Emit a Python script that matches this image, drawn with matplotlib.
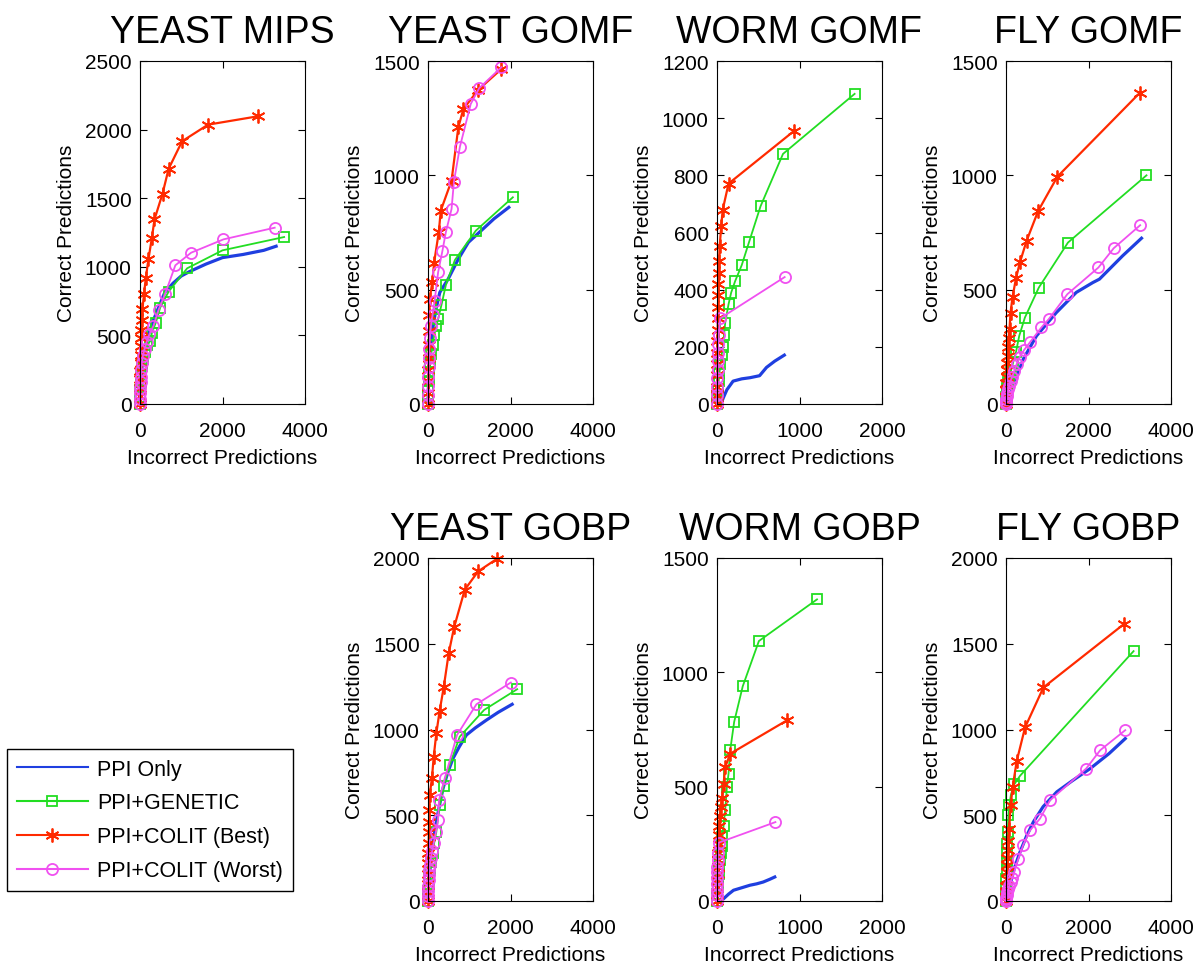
import numpy as np
import matplotlib
matplotlib.use("Agg")
import matplotlib.pyplot as plt

plt.rcParams['font.family'] = ['Liberation Sans', 'DejaVu Sans']

titles = ["YEAST MIPS", "YEAST GOMF", "WORM GOMF", "FLY GOMF",
          "YEAST GOBP", "WORM GOBP", "FLY GOBP"]
series_names = ["PPI Only", "PPI+GENETIC", "PPI+COLIT (Best)", "PPI+COLIT (Worst)"]

# per panel: x limit, y limit, x ticks, y ticks
xlims = [4000, 4000, 2000, 4000, 4000, 2000, 4000]
ylims = [2500, 1500, 1200, 1500, 2000, 1500, 2000]
xticks = [[0, 2000, 4000], [0, 2000, 4000], [0, 1000, 2000], [0, 2000, 4000],
          [0, 2000, 4000], [0, 1000, 2000], [0, 2000, 4000]]
yticks = [[0, 500, 1000, 1500, 2000, 2500], [0, 500, 1000, 1500],
          [0, 200, 400, 600, 800, 1000, 1200], [0, 500, 1000, 1500],
          [0, 500, 1000, 1500, 2000], [0, 500, 1000, 1500],
          [0, 500, 1000, 1500, 2000]]

# ---- YEAST MIPS
ym_blue_x = [0, 10, 30, 60, 100, 200, 300, 400, 600, 800, 1000, 1200, 1600, 2000, 2500, 3000, 3300]
ym_blue_y = [0, 120, 220, 300, 370, 500, 590, 667, 812, 880, 933, 965, 1020, 1067, 1090, 1120, 1150]
ym_green_x = [0, 5, 10, 20, 35, 55, 80, 120, 180, 250, 290, 384, 490, 694, 1143, 2000, 3494]
ym_green_y = [0, 50, 100, 160, 220, 280, 330, 380, 430, 460, 520, 594, 703, 819, 989, 1120, 1217]
ym_red_x = [0, 2, 4, 7, 10, 14, 18, 23, 29, 36, 45, 57, 98, 139, 204, 286, 351, 547, 694, 1020, 1649, 2857]
ym_red_y = [0, 60, 120, 180, 240, 300, 360, 420, 480, 540, 610, 691, 800, 916, 1054, 1207, 1345, 1534, 1714, 1915, 2036, 2097]
ym_mag_x = [0, 3, 6, 10, 15, 20, 30, 45, 70, 110, 160, 230, 327, 449, 612, 857, 1241, 2024, 3265]
ym_mag_y = [0, 40, 80, 120, 160, 200, 250, 300, 350, 400, 450, 510, 570, 686, 805, 1011, 1103, 1200, 1285]

# ---- YEAST GOMF
yf_blue_x = [0, 10, 30, 60, 100, 150, 200, 286, 490, 735, 979, 1300, 1600, 1959]
yf_blue_y = [0, 80, 160, 240, 310, 370, 420, 488, 547, 634, 707, 760, 810, 860]
yf_green_x = [0, 5, 10, 20, 35, 55, 80, 110, 150, 200, 245, 326, 433, 653, 1159, 2057]
yf_green_y = [0, 30, 60, 100, 140, 180, 220, 260, 300, 340, 372, 433, 520, 630, 758, 904]
yf_red_x = [0, 3, 6, 10, 15, 20, 27, 35, 41, 106, 147, 261, 310, 571, 735, 857, 1224, 1780]
yf_red_y = [0, 50, 100, 150, 200, 260, 320, 390, 459, 535, 617, 751, 846, 977, 1210, 1290, 1375, 1465]
yf_mag_x = [0, 3, 6, 10, 15, 22, 30, 45, 70, 110, 160, 245, 351, 432, 571, 629, 775, 1036, 1240, 1780]
yf_mag_y = [0, 40, 80, 120, 160, 200, 240, 290, 340, 390, 450, 576, 671, 751, 853, 973, 1126, 1312, 1381, 1473]

# ---- WORM GOMF
wf_blue_x = [60, 80, 120, 195, 300, 400, 516, 600, 700, 816]
wf_blue_y = [10, 24, 50, 80, 88, 92, 99, 128, 150, 171]
wf_green_x = [0, 5, 12, 20, 30, 42, 55, 70, 85, 100, 140, 172, 220, 300, 388, 528, 800, 1668]
wf_green_y = [0, 25, 50, 80, 110, 140, 170, 200, 240, 285, 349, 390, 430, 486, 566, 692, 875, 1085]
wf_red_x = [0, 1, 2, 3, 4, 5, 6, 8, 10, 12, 15, 18, 22, 26, 32, 52, 68, 140, 928]
wf_red_y = [0, 30, 60, 100, 140, 180, 220, 260, 300, 340, 380, 420, 460, 500, 552, 622, 678, 771, 954]
wf_mag_x = [0, 2, 4, 6, 8, 10, 12, 15, 20, 40, 820]
wf_mag_y = [0, 30, 60, 90, 120, 150, 180, 210, 240, 300, 444]

# ---- FLY GOMF
ff_blue_x = [0, 56, 177, 418, 739, 1221, 1703, 2104, 2265, 2827, 3285]
ff_blue_y = [0, 7, 80, 196, 298, 400, 488, 531, 546, 648, 725]
ff_green_x = [0, 5, 10, 20, 35, 55, 80, 120, 170, 241, 321, 458, 795, 1502, 3406]
ff_green_y = [0, 15, 30, 50, 70, 95, 120, 145, 180, 226, 298, 378, 509, 706, 1000]
ff_red_x = [0, 3, 6, 10, 15, 20, 28, 38, 50, 65, 85, 110, 161, 241, 337, 498, 779, 1245, 3245]
ff_red_y = [0, 30, 60, 90, 120, 150, 180, 210, 250, 290, 330, 400, 470, 549, 619, 713, 844, 994, 1361]
ff_mag_x = [0, 5, 10, 20, 35, 55, 80, 110, 150, 200, 260, 337, 442, 578, 859, 1036, 1486, 2241, 2610, 3253]
ff_mag_y = [0, 10, 20, 35, 50, 65, 80, 100, 120, 145, 175, 207, 237, 269, 335, 371, 480, 597, 681, 782]

# ---- YEAST GOBP
yb_blue_x = [0, 20, 50, 81, 130, 202, 280, 364, 480, 607, 760, 931, 1150, 1417, 1700, 2040]
yb_blue_y = [0, 100, 190, 267, 360, 462, 560, 656, 750, 832, 900, 968, 1010, 1055, 1100, 1147]
yb_green_x = [0, 5, 10, 20, 35, 55, 80, 110, 150, 200, 283, 381, 526, 769, 1360, 2162]
yb_green_y = [0, 30, 60, 100, 140, 180, 230, 280, 340, 400, 559, 672, 793, 958, 1114, 1235]
yb_red_x = [0, 2, 4, 6, 9, 12, 16, 21, 27, 33, 40, 97, 138, 202, 283, 381, 502, 632, 891, 1215, 1676]
yb_red_y = [0, 50, 100, 160, 220, 280, 340, 400, 460, 530, 617, 719, 841, 978, 1110, 1246, 1445, 1595, 1815, 1922, 1996]
yb_mag_x = [0, 3, 6, 10, 15, 20, 30, 45, 70, 100, 140, 190, 243, 267, 405, 704, 1174, 2008]
yb_mag_y = [0, 30, 60, 90, 120, 150, 180, 210, 250, 290, 340, 400, 471, 588, 715, 968, 1147, 1274]

# ---- WORM GOBP
wb_blue_x = [20, 40, 80, 140, 200, 300, 400, 480, 560, 640, 700]
wb_blue_y = [0, 3, 10, 30, 47, 58, 69, 75, 83, 95, 105]
wb_green_x = [0, 5, 10, 15, 20, 28, 36, 45, 55, 65, 80, 100, 120, 140, 160, 208, 312, 508, 1212]
wb_green_y = [0, 30, 60, 90, 120, 150, 180, 210, 240, 280, 330, 400, 499, 557, 659, 783, 939, 1137, 1319]
wb_red_x = [0, 2, 4, 6, 8, 10, 13, 16, 20, 25, 30, 40, 50, 60, 80, 100, 160, 848]
wb_red_y = [0, 30, 60, 90, 120, 150, 180, 210, 250, 290, 330, 370, 410, 450, 513, 586, 644, 790]
wb_mag_x = [0, 1, 2, 3, 4, 5, 6, 8, 10, 20, 708]
wb_mag_y = [0, 25, 50, 75, 100, 125, 150, 180, 210, 255, 345]

# ---- FLY GOBP
fb_blue_x = [0, 50, 97, 200, 340, 500, 664, 900, 1231, 1600, 2040, 2500, 2891]
fb_blue_y = [0, 40, 91, 190, 286, 380, 461, 550, 636, 700, 772, 860, 947]
fb_green_x = [0, 3, 6, 10, 15, 20, 27, 35, 45, 57, 80, 120, 200, 340, 3093]
fb_green_y = [0, 40, 80, 130, 180, 230, 280, 330, 400, 500, 560, 620, 680, 730, 1457]
fb_red_x = [0, 3, 6, 10, 15, 20, 27, 35, 45, 57, 75, 113, 162, 259, 462, 907, 2850]
fb_red_y = [0, 30, 60, 90, 130, 170, 210, 250, 300, 350, 420, 558, 665, 815, 1012, 1245, 1613]
fb_mag_x = [0, 5, 10, 20, 35, 55, 80, 110, 150, 200, 300, 421, 583, 826, 1069, 1943, 2283, 2891]
fb_mag_y = [0, 10, 20, 35, 50, 70, 90, 110, 135, 170, 247, 329, 412, 481, 588, 772, 879, 996]

panels = [
    [(ym_blue_x, ym_blue_y), (ym_green_x, ym_green_y), (ym_red_x, ym_red_y), (ym_mag_x, ym_mag_y)],
    [(yf_blue_x, yf_blue_y), (yf_green_x, yf_green_y), (yf_red_x, yf_red_y), (yf_mag_x, yf_mag_y)],
    [(wf_blue_x, wf_blue_y), (wf_green_x, wf_green_y), (wf_red_x, wf_red_y), (wf_mag_x, wf_mag_y)],
    [(ff_blue_x, ff_blue_y), (ff_green_x, ff_green_y), (ff_red_x, ff_red_y), (ff_mag_x, ff_mag_y)],
    [(yb_blue_x, yb_blue_y), (yb_green_x, yb_green_y), (yb_red_x, yb_red_y), (yb_mag_x, yb_mag_y)],
    [(wb_blue_x, wb_blue_y), (wb_green_x, wb_green_y), (wb_red_x, wb_red_y), (wb_mag_x, wb_mag_y)],
    [(fb_blue_x, fb_blue_y), (fb_green_x, fb_green_y), (fb_red_x, fb_red_y), (fb_mag_x, fb_mag_y)],
]

colors = ['#1f3fe0', '#22dd22', '#ff2a00', '#f050f0']
markers = [None, 's', (6, 2, 0), 'o']
msizes = [0, 7, 10, 8]
lws = [2.3, 1.3, 1.6, 1.3]

W, H = 1200, 979
fig = plt.figure(figsize=(W / 100, H / 100), dpi=100)

col_left = [140, 428, 717, 1006]
ax_w, ax_h = 165, 343
row_top = [62, 559]
slots = [(0, 0), (0, 1), (0, 2), (0, 3), (1, 1), (1, 2), (1, 3)]

handles = []
for i, (r, c) in enumerate(slots):
    left = col_left[c] / W
    bottom = 1 - (row_top[r] + ax_h) / H
    ax = fig.add_axes([left, bottom, ax_w / W, ax_h / H])
    for k, (xs, ys) in enumerate(panels[i]):
        ln, = ax.plot(xs, ys, color=colors[k], lw=lws[k], marker=markers[k],
                      ms=msizes[k], mfc='none', mec=colors[k], mew=1.3,
                      clip_on=False, label=series_names[k])
        if i == 0:
            handles.append(ln)
    ax.set_xlim(0, xlims[i])
    ax.set_ylim(0, ylims[i])
    ax.set_xticks(xticks[i])
    ax.set_yticks(yticks[i])
    ax.tick_params(direction='in', top=True, right=True, length=5, labelsize=15)
    ax.tick_params(axis='x', pad=12)
    ax.tick_params(axis='y', pad=6)
    ax.set_title(titles[i], fontsize=27, pad=14)
    ax.set_xlabel('Incorrect Predictions', fontsize=15, labelpad=6)
    ax.set_ylabel('Correct Predictions', fontsize=15, labelpad=6)

leg = fig.legend(handles=handles, loc='lower left',
                 bbox_to_anchor=(7 / W, 1 - 892 / H), borderaxespad=0,
                 fontsize=15.5, fancybox=False, edgecolor='black', framealpha=1,
                 handlelength=3.3, handletextpad=0.45, borderpad=0.45,
                 labelspacing=0.6)
leg.get_frame().set_linewidth(1.0)
for h in leg.legend_handles:
    h.set_linewidth(1.5)

fig.savefig('out.png', dpi=100)
